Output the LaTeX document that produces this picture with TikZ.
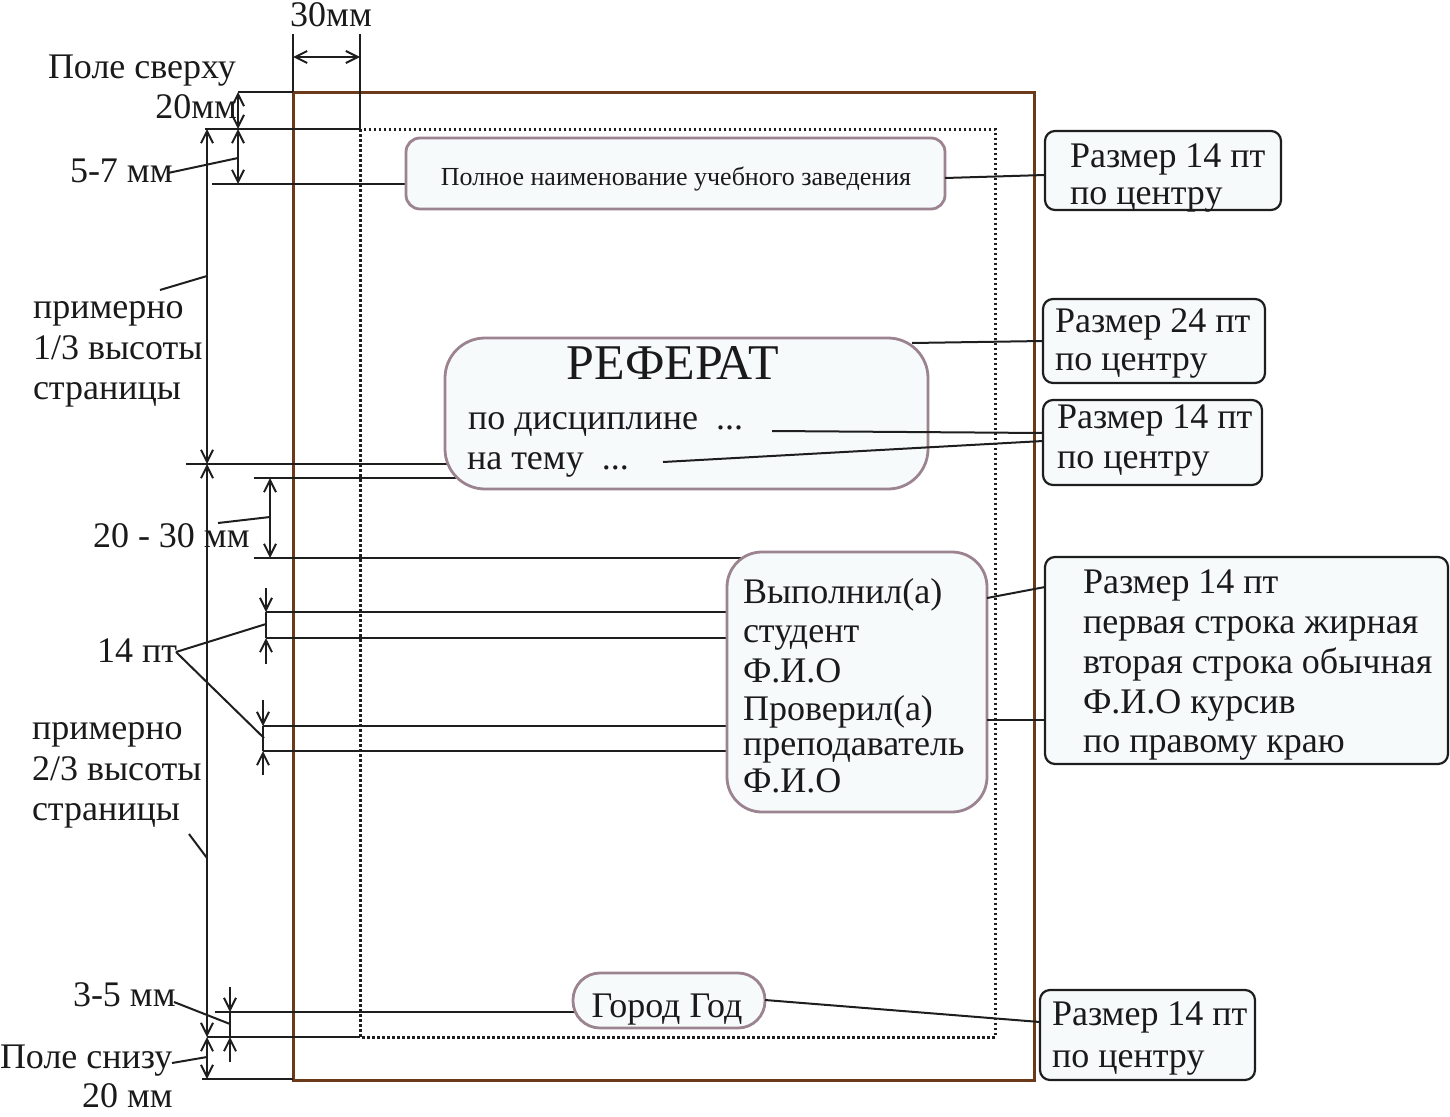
\documentclass[tikz,border=0pt]{standalone}
\usepackage{fontspec}
\setmainfont{Liberation Serif}
\usetikzlibrary{arrows.meta,calc}
\definecolor{pagebrown}{HTML}{6B3A1A}
\definecolor{boxmauve}{HTML}{9C8390}
\definecolor{boxfill}{HTML}{F6FAFB}
\definecolor{txt}{HTML}{1A1A1A}
\definecolor{ln}{HTML}{1E1E1E}
\newcommand\fsN{\fontsize{36}{42}\selectfont}
\newcommand\fsS{\fontsize{26}{31}\selectfont}
\newcommand\fsB{\fontsize{50}{56}\selectfont}
\begin{document}
\begin{tikzpicture}[x=1pt,y=-1pt,
  lbl/.style={inner sep=0pt, outer sep=0pt, text=txt, font=\fsN, anchor=base west},
  thin/.style={draw=ln, line width=2pt},
  dimarr/.style={draw=ln, line width=2pt, {Straight Barb[length=12pt,width=12pt]}-{Straight Barb[length=12pt,width=12pt]}},
  onearr/.style={draw=ln, line width=2pt, -{Straight Barb[length=12pt,width=12pt]}},
  lbox/.style={draw=boxmauve, line width=2.8pt, fill=boxfill, anchor=north west, inner sep=0pt, outer sep=0pt, rounded corners=#1},
  rbox/.style={draw=ln, line width=2.2pt, fill=boxfill, anchor=north west, inner sep=0pt, outer sep=0pt, rounded corners=10pt}]
\useasboundingbox (0,0) rectangle (1450,1116);

% ---- page and text field
\draw[pagebrown, line width=3pt] (293,92) rectangle (1034,1080);
\draw[ln, line width=3pt, dash pattern=on 2.5pt off 2.5pt] (360,129) rectangle (995,1037);

% ---- extension lines
\draw[thin] (293,34) -- (293,92);
\draw[thin] (360,34) -- (360,129);
\draw[thin] (238,92) -- (293,92);
\draw[thin] (205,129) -- (360,129);
\draw[thin] (212,184) -- (420,184);
\draw[thin] (186,464) -- (460,464);
\draw[thin] (254,478) -- (470,478);
\draw[thin] (254,558) -- (745,558);
\draw[thin] (266,612) -- (740,612);
\draw[thin] (266,638) -- (740,638);
\draw[thin] (263,726) -- (740,726);
\draw[thin] (263,751) -- (740,751);
\draw[thin] (215,1012) -- (590,1012);
\draw[thin] (207,1037) -- (360,1037);
\draw[thin] (202,1079) -- (293,1079);

% ---- dimension arrows
\draw[dimarr] (293,57) -- (360,57);
\draw[dimarr] (238,92) -- (238,129);
\draw[dimarr] (238,129) -- (238,184);
\draw[dimarr] (207,129) -- (207,464);
\draw[dimarr] (207,464) -- (207,1037);
\draw[dimarr] (207,1037) -- (207,1079);
\draw[dimarr] (270,478) -- (270,558);
\draw[onearr] (266,588) -- (266,612);
\draw[onearr] (266,664) -- (266,638);
\draw[thin] (266,612) -- (266,638);
\draw[onearr] (263,700) -- (263,726);
\draw[onearr] (263,775) -- (263,751);
\draw[thin] (263,726) -- (263,751);
\draw[onearr] (230,987) -- (230,1012);
\draw[onearr] (230,1062) -- (230,1037);
\draw[thin] (230,1012) -- (230,1037);

% ---- left labels
\node[lbl, anchor=base] (t30) at (331,27) {30мм};
\node[lbl] (tps) at (48,78) {Поле сверху};
\node[lbl, anchor=base east] (t20) at (237,118) {20мм};
\node[lbl] (t57) at (70,182) {5-7 мм};
\node[lbl] (ta1) at (33,318) {примерно};
\node[lbl] (ta2) at (33,359) {1/3 высоты};
\node[lbl] (ta3) at (33,399) {страницы};
\node[lbl] (t2030) at (93,547) {20 - 30 мм};
\node[lbl] (t14) at (97,662) {14 пт};
\node[lbl] (tb1) at (32,739) {примерно};
\node[lbl] (tb2) at (32,780) {2/3 высоты};
\node[lbl] (tb3) at (32,820) {страницы};
\node[lbl] (t35) at (73,1006) {3-5 мм};
\node[lbl] (tpn) at (0,1068) {Поле снизу};
\node[lbl] (t20b) at (82,1107) {20 мм};

% ---- label leaders
\coordinate (l57a) at (168,173);  \coordinate (l57b) at (238,158);
\coordinate (la1) at (160,290);   \coordinate (la2) at (207,276);
\coordinate (l23a) at (218,523);  \coordinate (l23b) at (270,517);
\coordinate (l14a) at (176,652);  \coordinate (l14b) at (266,624); \coordinate (l14c) at (264,738);
\coordinate (lb1) at (189,834);   \coordinate (lb2) at (207,858);
\coordinate (l35a) at (174,1002); \coordinate (l35b) at (230,1024);
\coordinate (lpna) at (172,1063); \coordinate (lpnb) at (207,1057);
\draw[thin] (l57a) -- (l57b);
\draw[thin] (la1) -- (la2);
\draw[thin] (l23a) -- (l23b);
\draw[thin] (l14a) -- (l14b);
\draw[thin] (l14a) -- (l14c);
\draw[thin] (lb1) -- (lb2);
\draw[thin] (l35a) -- (l35b);
\draw[thin] (lpna) -- (lpnb);

% ---- page content boxes
\node[lbox=14pt, minimum width=539pt, minimum height=71pt] (inst) at (406,138) {};
\node[lbl, font=\fsS, anchor=base] (instt) at (676,185) {Полное наименование учебного заведения};

\node[lbox=40pt, minimum width=483pt, minimum height=151pt] (ref) at (445,338) {};
\node[lbl, font=\fsB, anchor=base] (reft) at (673,379) {РЕФЕРАТ};
\node[lbl] (disc) at (468,429) {по дисциплине\ \ ...};
\node[lbl] (tema) at (467,469) {на тему\ \ ...};

\node[lbox=35pt, minimum width=260pt, minimum height=260pt] (vyp) at (727,552) {};
\node[lbl] (v1) at (743,603) {Выполнил(а)};
\node[lbl] (v2) at (743,642) {студент};
\node[lbl] (v3) at (743,682) {Ф.И.О};
\node[lbl] (v4) at (743,720) {Проверил(а)};
\node[lbl] (v5) at (743,755) {преподаватель};
\node[lbl] (v6) at (743,792) {Ф.И.О};

\node[lbox=27pt, minimum width=192pt, minimum height=55pt] (gor) at (573,973) {};
\node[lbl, anchor=base] (gort) at (667,1017) {Город Год};

% ---- right note boxes
\node[rbox, minimum width=236pt, minimum height=79pt] (r1) at (1045,131) {};
\node[lbl] (r1a) at (1070,167) {Размер 14 пт};
\node[lbl] (r1b) at (1070,204) {по центру};

\node[rbox, minimum width=222pt, minimum height=84pt] (r2) at (1043,299) {};
\node[lbl] (r2a) at (1055,332) {Размер 24 пт};
\node[lbl] (r2b) at (1055,370) {по центру};

\node[rbox, minimum width=219pt, minimum height=85pt] (r3) at (1043,400) {};
\node[lbl] (r3a) at (1057,428) {Размер 14 пт};
\node[lbl] (r3b) at (1057,468) {по центру};

\node[rbox, minimum width=403pt, minimum height=207pt] (r4) at (1045,557) {};
\node[lbl] (r4a) at (1083,593) {Размер 14 пт};
\node[lbl] (r4b) at (1083,633) {первая строка жирная};
\node[lbl] (r4c) at (1083,673) {вторая строка обычная};
\node[lbl] (r4d) at (1083,713) {Ф.И.О курсив};
\node[lbl] (r4e) at (1083,752) {по правому краю};

\node[rbox, minimum width=215pt, minimum height=90pt] (r5) at (1040,990) {};
\node[lbl] (r5a) at (1052,1025) {Размер 14 пт};
\node[lbl] (r5b) at (1052,1067) {по центру};

% ---- connectors to notes
\coordinate (c1a) at (945,178);  \coordinate (c1b) at (1045,175);
\coordinate (c2a) at (912,343);  \coordinate (c2b) at (1043,341);
\coordinate (c3a) at (772,431);  \coordinate (c3b) at (1043,433);
\coordinate (c4a) at (663,462);  \coordinate (c4b) at (1043,441);
\coordinate (c5a) at (987,598);  \coordinate (c5b) at (1045,587);
\coordinate (c6a) at (987,720);  \coordinate (c6b) at (1045,720);
\coordinate (c7a) at (765,1000); \coordinate (c7b) at (1040,1022);
\draw[thin] (c1a) -- (c1b);
\draw[thin] (c2a) -- (c2b);
\draw[thin] (c3a) -- (c3b);
\draw[thin] (c4a) -- (c4b);
\draw[thin] (c5a) -- (c5b);
\draw[thin] (c6a) -- (c6b);
\draw[thin] (c7a) -- (c7b);
\end{tikzpicture}
\end{document}
